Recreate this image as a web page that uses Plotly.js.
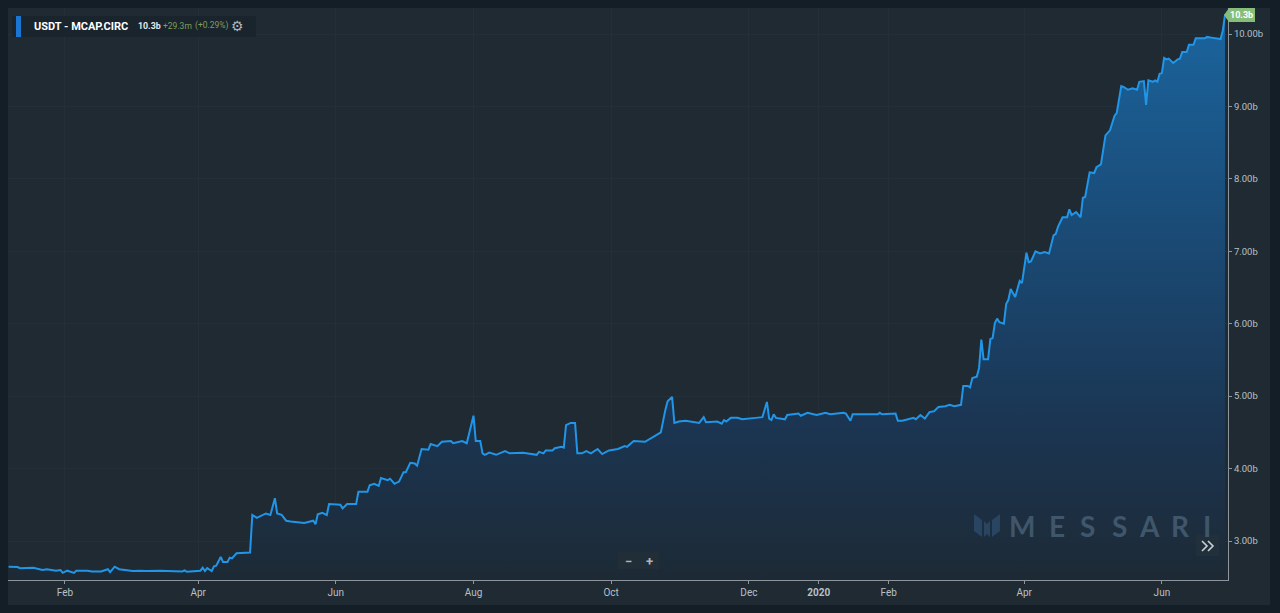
<!DOCTYPE html>
<html><head><meta charset="utf-8">
<script src="https://cdn.plot.ly/plotly-3.0.0.min.js"></script>
<style>html,body{margin:0;padding:0;background:#141e27;overflow:hidden}#c{width:1280px;height:613px}</style>
</head><body><div id="c"></div>
<script>
const dates = ["2019-01-07","2019-01-11","2019-01-12","2019-01-18","2019-01-22","2019-01-24","2019-01-28","2019-01-30","2019-01-31","2019-02-02","2019-02-05","2019-02-06","2019-02-11","2019-02-13","2019-02-17","2019-02-20","2019-02-21","2019-02-23","2019-02-25","2019-03-03","2019-03-06","2019-03-09","2019-03-15","2019-03-20","2019-03-22","2019-03-25","2019-03-26","2019-03-27","2019-04-02","2019-04-03","2019-04-04","2019-04-05","2019-04-07","2019-04-08","2019-04-09","2019-04-11","2019-04-12","2019-04-14","2019-04-15","2019-04-16","2019-04-18","2019-04-23","2019-04-24","2019-04-25","2019-04-27","2019-05-01","2019-05-03","2019-05-05","2019-05-06","2019-05-08","2019-05-10","2019-05-12","2019-05-16","2019-05-18","2019-05-22","2019-05-23","2019-05-24","2019-05-26","2019-05-28","2019-05-29","2019-06-03","2019-06-04","2019-06-06","2019-06-10","2019-06-11","2019-06-15","2019-06-16","2019-06-18","2019-06-20","2019-06-21","2019-06-24","2019-06-25","2019-06-27","2019-06-29","2019-07-01","2019-07-02","2019-07-04","2019-07-06","2019-07-07","2019-07-09","2019-07-12","2019-07-13","2019-07-16","2019-07-18","2019-07-22","2019-07-23","2019-07-27","2019-07-29","2019-08-01","2019-08-02","2019-08-04","2019-08-05","2019-08-06","2019-08-08","2019-08-11","2019-08-15","2019-08-17","2019-08-23","2019-08-29","2019-08-30","2019-09-01","2019-09-02","2019-09-05","2019-09-06","2019-09-09","2019-09-10","2019-09-11","2019-09-13","2019-09-15","2019-09-16","2019-09-18","2019-09-20","2019-09-22","2019-09-25","2019-09-27","2019-09-30","2019-10-04","2019-10-07","2019-10-08","2019-10-11","2019-10-16","2019-10-19","2019-10-23","2019-10-25","2019-10-26","2019-10-28","2019-10-29","2019-10-31","2019-11-03","2019-11-09","2019-11-11","2019-11-12","2019-11-17","2019-11-19","2019-11-20","2019-11-21","2019-11-23","2019-11-26","2019-11-28","2019-12-04","2019-12-07","2019-12-09","2019-12-10","2019-12-11","2019-12-12","2019-12-13","2019-12-17","2019-12-18","2019-12-23","2019-12-24","2019-12-27","2019-12-31","2020-01-04","2020-01-06","2020-01-12","2020-01-13","2020-01-15","2020-01-16","2020-01-27","2020-01-28","2020-01-29","2020-02-04","2020-02-05","2020-02-07","2020-02-12","2020-02-13","2020-02-15","2020-02-17","2020-02-19","2020-02-21","2020-02-23","2020-02-26","2020-02-28","2020-03-01","2020-03-04","2020-03-05","2020-03-07","2020-03-08","2020-03-09","2020-03-11","2020-03-12","2020-03-13","2020-03-14","2020-03-16","2020-03-17","2020-03-18","2020-03-19","2020-03-20","2020-03-21","2020-03-23","2020-03-24","2020-03-25","2020-03-26","2020-03-28","2020-03-30","2020-03-31","2020-04-02","2020-04-03","2020-04-04","2020-04-06","2020-04-08","2020-04-10","2020-04-12","2020-04-14","2020-04-15","2020-04-16","2020-04-18","2020-04-20","2020-04-21","2020-04-22","2020-04-24","2020-04-26","2020-04-27","2020-04-28","2020-04-30","2020-05-02","2020-05-03","2020-05-05","2020-05-07","2020-05-09","2020-05-11","2020-05-12","2020-05-14","2020-05-15","2020-05-17","2020-05-19","2020-05-21","2020-05-22","2020-05-24","2020-05-25","2020-05-26","2020-05-28","2020-05-29","2020-05-30","2020-05-31","2020-06-01","2020-06-02","2020-06-03","2020-06-04","2020-06-06","2020-06-08","2020-06-09","2020-06-10","2020-06-12","2020-06-13","2020-06-15","2020-06-16","2020-06-20","2020-06-21","2020-06-23","2020-06-27","2020-06-28","2020-06-29"];
const mcapCirc = [2.645,2.64,2.625,2.63,2.60,2.61,2.59,2.60,2.56,2.59,2.56,2.59,2.59,2.58,2.58,2.61,2.57,2.645,2.61,2.585,2.59,2.585,2.59,2.585,2.59,2.58,2.595,2.575,2.59,2.63,2.585,2.625,2.585,2.65,2.66,2.78,2.71,2.71,2.77,2.76,2.83,2.83,2.84,3.36,3.32,3.38,3.36,3.59,3.38,3.36,3.28,3.27,3.26,3.25,3.28,3.23,3.37,3.39,3.36,3.51,3.50,3.45,3.51,3.51,3.68,3.68,3.77,3.79,3.76,3.87,3.84,3.86,3.79,3.82,3.95,3.95,4.08,4.07,4.04,4.27,4.26,4.34,4.31,4.37,4.38,4.35,4.38,4.35,4.73,4.38,4.38,4.21,4.19,4.22,4.19,4.24,4.21,4.22,4.19,4.23,4.21,4.25,4.25,4.28,4.30,4.29,4.60,4.63,4.63,4.21,4.21,4.24,4.21,4.27,4.20,4.25,4.27,4.31,4.30,4.38,4.37,4.43,4.50,4.81,4.93,4.99,4.63,4.65,4.66,4.63,4.71,4.64,4.65,4.62,4.67,4.65,4.70,4.70,4.68,4.70,4.71,4.92,4.69,4.67,4.75,4.70,4.68,4.74,4.76,4.73,4.77,4.74,4.77,4.75,4.77,4.76,4.66,4.75,4.75,4.77,4.75,4.76,4.66,4.66,4.70,4.68,4.74,4.69,4.78,4.79,4.85,4.86,4.88,4.86,4.88,5.14,5.14,5.12,5.25,5.27,5.39,5.78,5.51,5.51,5.79,5.80,6.01,6.07,6.02,6.00,6.27,6.33,6.48,6.37,6.59,6.56,6.98,6.85,6.86,7.00,6.97,6.99,6.97,7.22,7.24,7.34,7.47,7.47,7.58,7.50,7.54,7.47,7.74,7.75,8.09,8.08,8.16,8.20,8.60,8.67,8.87,8.91,9.28,9.27,9.23,9.25,9.23,9.34,9.35,9.02,9.36,9.34,9.36,9.34,9.45,9.46,9.67,9.65,9.66,9.60,9.65,9.66,9.75,9.75,9.85,9.85,9.94,9.94,9.96,9.95,9.93,10.05,10.27];
const monthTicks = ["2019-02-01","2019-04-01","2019-06-01","2019-08-01","2019-10-01","2019-12-01","2020-01-01","2020-02-01","2020-04-01","2020-06-01"];
const monthLabels = ["Feb","Apr","Jun","Aug","Oct","Dec","<b>2020</b>","Feb","Apr","Jun"];
const valueTicks = [3,4,5,6,7,8,9,10];
const valueLabels = ["3.00b","4.00b","5.00b","6.00b","7.00b","8.00b","9.00b","10.00b"];
const brandLetters = ["M","E","S","S","A","R","I"];

const W=1280,H=613,L=8,R=1228,T=8,B=580;
const px=x=>(x-L)/(R-L), py=y=>(B-y)/(B-T);
const rect=(x0,y0,x1,y1,fill,layer)=>({type:'rect',xref:'paper',yref:'paper',x0:px(x0),x1:px(x1),y0:py(y0),y1:py(y1),fillcolor:fill,line:{width:0},layer:layer||'above'});
const poly=(pts,fill,line)=>({type:'path',xref:'paper',yref:'paper',path:'M'+pts.map(p=>px(p[0]).toFixed(5)+','+py(p[1]).toFixed(5)).join('L')+(line?'':'Z'),fillcolor:line?'rgba(0,0,0,0)':fill,line:line?{color:fill,width:line}:{width:0},layer:'above'});
const txt=(x,y,text,size,color,anchor,family)=>({xref:'paper',yref:'paper',x:px(x),y:py(y),text,showarrow:false,xanchor:anchor||'left',yanchor:'middle',font:{size,color,family:family||'Roboto, sans-serif'},borderpad:0,borderwidth:0});

const brandX=[1022,1057,1087,1119,1149,1180,1207];
const shapes=[
 rect(8,8,1270,605,'#1f2a33','below'),
 rect(12,16,256,37,'#1a242c'),
 rect(16,16,21,37,'#1976d2'),
 rect(618,552,659,569,'#212d37'),
 rect(1196,535,1219,556,'#22303b'),
 poly([[1224,15],[1229,8],[1255,8],[1255,22],[1229,22]],'#86bd78'),
 poly([[974,514],[982,520],[982,537],[974,531]],'#294561'),
 poly([[984,521],[987,524],[990,521],[990,537],[987,534],[984,537]],'#294561'),
 poly([[992,520],[1000,514],[1000,531],[992,537]],'#294561'),
 poly([[1202,541],[1207,546],[1202,551]],'#c9d1d6',1.6),
 poly([[1208,541],[1213,546],[1208,551]],'#c9d1d6',1.6),
];
const annotations=[
 txt(34,26.5,'<b>USDT - MCAP.CIRC</b>',11,'#ffffff'),
 txt(138,26,'<b>10.3b</b>',8.8,'#e6e9ec'),
 txt(163,26,'+29.3m',8.5,'#7f9f5c'),
 txt(195,26,'(+0.29%)',8.5,'#7f9f5c'),
 txt(237,26,'⚙',14,'#aeb6bc','center','DejaVu Sans'),
 txt(1241,15,'<b>10.3b</b>',9,'#ffffff','center'),
 ...brandLetters.map((c,i)=>txt(brandX[i],525.5,'<b>'+c+'</b>',28,'#40566a','center','Lato, sans-serif')),
 txt(628,561,'<b>−</b>',13,'#aeb6bc','center'),
 txt(649.5,561,'<b>+</b>',13,'#aeb6bc','center'),
];

const trace={type:'scatter',mode:'lines',x:dates,y:mcapCirc,line:{color:'#2196e8',width:2},fill:'tozeroy',
 fillgradient:{type:'vertical',start:10.36,stop:2.46,colorscale:[[0,'#1b659f'],[0.4,'#1a4a75'],[0.75,'#1b3450'],[1,'#1d2a35']]},hoverinfo:'skip'};
const layout={width:W,height:H,margin:{l:L,r:W-R,t:T,b:H-B,pad:0},paper_bgcolor:'#141e27',plot_bgcolor:'rgba(0,0,0,0)',showlegend:false,hovermode:false,
 xaxis:{type:'date',range:['2019-01-06 18:00','2020-06-30 07:00'],tickmode:'array',tickvals:monthTicks,ticktext:monthLabels,ticks:'outside',ticklen:3,tickcolor:'#8d969d',tickwidth:1,showline:true,linecolor:'#8d969d',linewidth:1,showgrid:true,gridcolor:'#232f39',gridwidth:1,zeroline:false,tickfont:{family:'Roboto, sans-serif',size:10,color:'#b9c0c5'}},
 yaxis:{side:'right',range:[2.4615,10.359],tickmode:'array',tickvals:valueTicks,ticktext:valueLabels,ticks:'outside',ticklen:3,tickcolor:'#8d969d',tickwidth:1,showline:true,linecolor:'#8d969d',linewidth:1,showgrid:true,gridcolor:'#232f39',gridwidth:1,zeroline:false,tickfont:{family:'Roboto, sans-serif',size:9.5,color:'#b9c0c5'}},
 shapes,annotations};
Plotly.newPlot('c',[trace],layout,{displayModeBar:false,staticPlot:true});
</script></body></html>
